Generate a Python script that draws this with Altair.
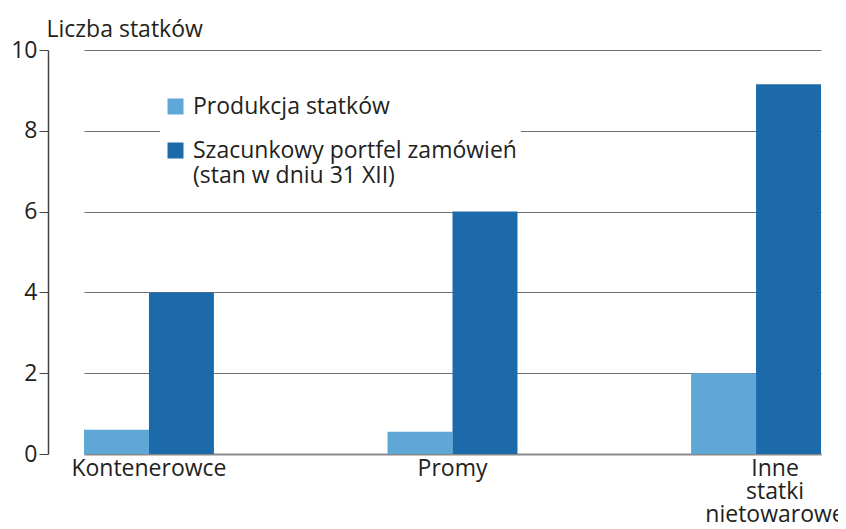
import altair as alt
import pandas as pd

categories = ["Kontenerowce", "Promy", "Inne statki nietowarowe"]
series = ["Produkcja statków", "Szacunkowy portfel zamówień (stan w dniu 31 XII)"]
produkcja = [0.6, 0.55, 2.0]
portfel = [4.0, 6.0, 9.15]
colors = ["#5ea7d6", "#1c6aaa"]

rows = []
for c, a, b in zip(categories, produkcja, portfel):
    rows.append({"kategoria": c, "seria": series[0], "wartosc": a})
    rows.append({"kategoria": c, "seria": series[1], "wartosc": b})
df = pd.DataFrame(rows)

FONT = "Open Sans"
FS = 23
TXT = "#231f20"

label_expr = (
    "datum.label == 'Inne statki nietowarowe' ? ['Inne', 'statki', 'nietowarowe'] : datum.label"
)
legend_expr = (
    "datum.label == 'Szacunkowy portfel zamówień (stan w dniu 31 XII)' ? "
    "['Szacunkowy portfel zamówień', '(stan w dniu 31 XII)'] : datum.label"
)

chart = alt.Chart(df).mark_bar().encode(
    x=alt.X(
        "kategoria:N",
        sort=categories,
        scale=alt.Scale(range=[36, 773], paddingInner=0.572, paddingOuter=0),
        axis=alt.Axis(
            title=None,
            labelAngle=0,
            labelExpr=label_expr,
            labelFont=FONT,
            labelFontSize=FS,
            labelColor=TXT,
            labelPadding=3,
            labelLineHeight=23,
            ticks=False,
            domainColor="#8a8a8a",
            domainWidth=2,
            labelOffset={"condition": {"test": "datum.value == 'Inne statki nietowarowe'", "value": 19}, "value": 0},
        ),
    ),
    xOffset=alt.XOffset("seria:N", sort=series),
    y=alt.Y(
        "wartosc:Q",
        scale=alt.Scale(domain=[0, 10], nice=False),
        axis=alt.Axis(
            values=[0, 2, 4, 6, 8, 10],
            title="Liczba statków",
            titleAngle=0,
            titleAlign="left",
            titleBaseline="alphabetic",
            titleX=-2,
            titleY=-14,
            titleFont=FONT,
            titleFontSize=FS,
            titleFontWeight="normal",
            titleColor=TXT,
            labelFont=FONT,
            labelFontSize=FS,
            labelColor=TXT,
            labelPadding=2,
            tickSize=9,
            tickColor="#444444",
            domainColor="#444444",
            domainWidth=1.5,
            grid=True,
            gridColor="#707070",
            gridWidth=1.2,
        ),
    ),
    color=alt.Color(
        "seria:N",
        sort=series,
        scale=alt.Scale(domain=series, range=colors),
        legend=alt.Legend(
            title=None,
            orient="none",
            legendX=112,
            legendY=41,
            fillColor="white",
            padding=4,
            symbolType="square",
            symbolSize=256,
            symbolStrokeWidth=0,
            labelFont=FONT,
            labelFontSize=FS,
            labelColor=TXT,
            labelLimit=500,
            labelExpr=legend_expr,
            rowPadding=20,
            labelOffset=6,
        ),
    ),
).properties(
    width=783,
    height=404,
    padding={"left": 40, "top": 42, "right": 7, "bottom": 74},
    autosize=alt.AutoSizeParams(type="none"),
).configure_view(stroke=None)

chart.save("out.html", embed_options={"renderer": "svg", "actions": False})
